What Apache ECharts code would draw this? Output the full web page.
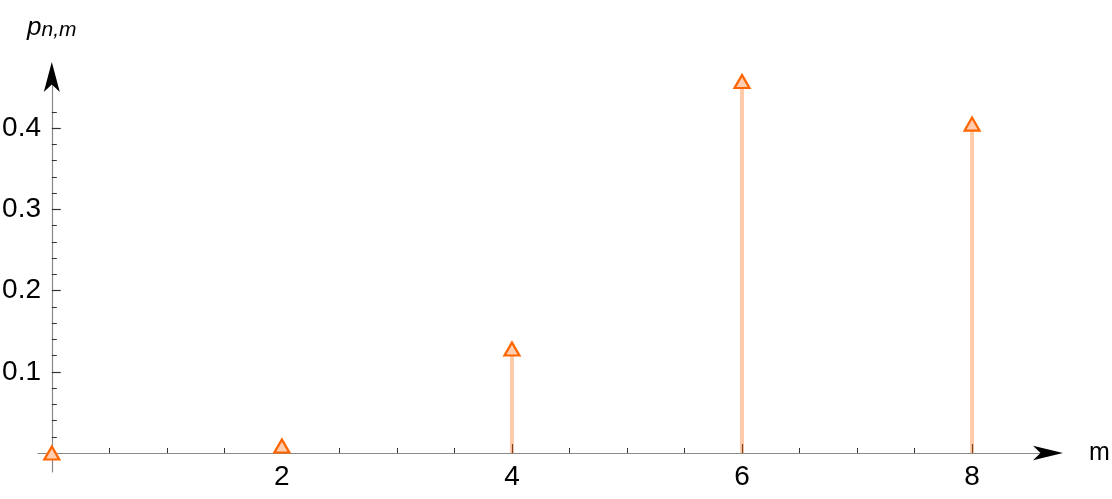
<!DOCTYPE html>
<html>
<head>
<meta charset="utf-8">
<script src="https://cdn.jsdelivr.net/npm/echarts@6/dist/echarts.min.js"></script>
<style>
  html, body { margin: 0; padding: 0; background: #fff; }
  #chart { width: 1112px; height: 499px; }
</style>
</head>
<body>
<div id="chart"></div>
<script>
const m = [0, 2, 4, 6, 8]
const p = [0, 0.0086, 0.128, 0.4575, 0.405]

const xLabels = [2, 4, 6, 8]
const xMinorTicks = [0.5, 1, 1.5, 2.5, 3, 3.5, 4.5, 5, 5.5, 6.5, 7, 7.5]
const yLabels = [0.1, 0.2, 0.3, 0.4]
const yMinorTicks = [0.02, 0.04, 0.06, 0.08, 0.12, 0.14, 0.16, 0.18, 0.22, 0.24,
  0.26, 0.28, 0.32, 0.34, 0.36, 0.38, 0.42]

const font = 'Liberation Sans, Arial, sans-serif'
const xMin = -0.12, xMax = 8.66
const yMin = -0.0234, yMax = 0.463

const points = m.map((v, i) => [v, p[i]])

const chart = echarts.init(document.getElementById('chart'))

// axis 0 = grey line, minor ticks, labels; axis 1 = arrow + major ticks
// labels sit at the grid edge, not on the zero line, hence the negative margins
const option = {
  animation: false,
  backgroundColor: '#fff',
  grid: { left: 38, right: 64, top: 77, bottom: 27, outerBoundsMode: 'none', containLabel: false },
  xAxis: [
    {
      type: 'value', min: xMin, max: xMax, position: 'bottom',
      splitLine: { show: false },
      axisLine: { onZero: true, onZeroAxisIndex: 0, lineStyle: { color: '#8a8a8a', width: 1.2 } },
      axisTick: { inside: true, length: 5, customValues: xMinorTicks, lineStyle: { color: '#333' } },
      axisLabel: { customValues: xLabels, margin: -9, fontSize: 28, color: '#000', fontFamily: font }
    },
    {
      type: 'value', min: xMin, max: xMax, position: 'bottom',
      splitLine: { show: false },
      axisLine: {
        onZero: true, onZeroAxisIndex: 0,
        symbol: ['none', 'arrow'], symbolSize: [11, 30], symbolOffset: [0, 15],
        lineStyle: { color: '#000', opacity: 0 }
      },
      axisTick: { inside: true, length: 9, customValues: xLabels, lineStyle: { color: '#333', width: 1.2 } },
      axisLabel: { show: false },
      name: 'm', nameLocation: 'end', nameGap: 41,
      nameTextStyle: { fontSize: 25, color: '#000', fontFamily: font }
    }
  ],
  yAxis: [
    {
      type: 'value', min: yMin, max: yMax, position: 'left',
      splitLine: { show: false },
      axisLine: { onZero: true, onZeroAxisIndex: 0, lineStyle: { color: '#8a8a8a', width: 1.2 } },
      axisTick: { inside: true, length: 5, customValues: yMinorTicks, lineStyle: { color: '#333' } },
      axisLabel: {
        customValues: yLabels, margin: -3, fontSize: 28, color: '#000', fontFamily: font,
        formatter: v => v.toFixed(1)
      }
    },
    {
      type: 'value', min: yMin, max: yMax, position: 'left',
      splitLine: { show: false },
      axisLine: {
        onZero: true, onZeroAxisIndex: 0,
        symbol: ['none', 'arrow'], symbolSize: [12, 30], symbolOffset: [0, 15],
        lineStyle: { color: '#000', opacity: 0 }
      },
      axisTick: { inside: true, length: 9, customValues: yLabels, lineStyle: { color: '#333', width: 1.2 } },
      axisLabel: { show: false },
      name: '{p|p}{s|n,m}', nameLocation: 'end', nameGap: 36,
      nameTextStyle: {
        rich: {
          p: { fontSize: 26, fontStyle: 'italic', color: '#000', fontFamily: font, lineHeight: 26 },
          s: { fontSize: 21, fontStyle: 'italic', color: '#000', fontFamily: font, verticalAlign: 'bottom', lineHeight: 14 }
        }
      }
    }
  ],
  series: [
    {
      type: 'bar', xAxisIndex: 0, yAxisIndex: 0,
      data: points, barWidth: 4, clip: false, silent: true,
      itemStyle: { color: 'rgba(255,102,0,0.34)' }
    },
    {
      type: 'scatter', xAxisIndex: 0, yAxisIndex: 0,
      data: points, symbol: 'triangle', symbolSize: [15, 13], clip: false,
      itemStyle: { color: '#FFCDB0', borderColor: '#FF6600', borderWidth: 2.2, opacity: 1 }
    }
  ]
}

chart.setOption(option)
</script>
</body>
</html>
